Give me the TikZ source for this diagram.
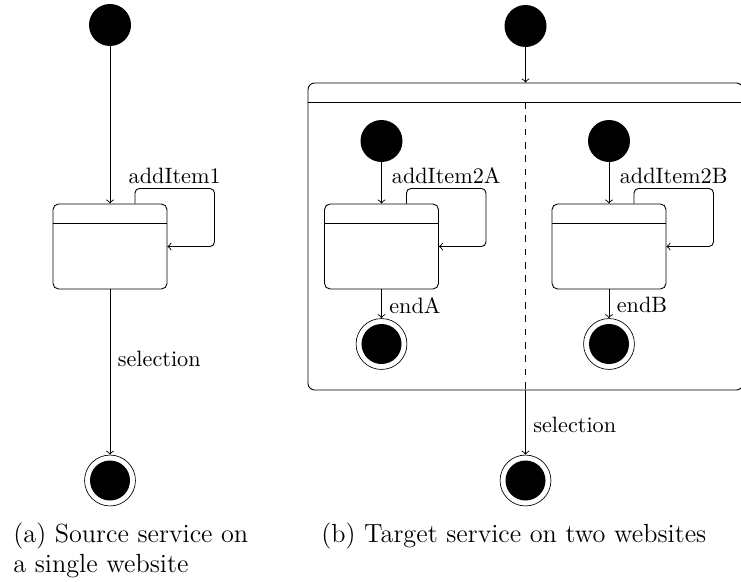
\documentclass[tikz,border=0pt]{standalone}
\usetikzlibrary{calc}
\begin{document}
\begin{tikzpicture}[x=0.45pt,y=-0.45pt,
  initial/.style={circle,fill=black,inner sep=0pt,minimum size=18.9pt},
  final/.style={circle,draw,line width=0.3pt,inner sep=0pt,minimum size=22.9pt,
    path picture={\fill[black] (path picture bounding box.center) circle (9pt);}},
  statebox/.style={draw,rounded corners=2.5pt,minimum width=51.3pt,
    minimum height=38.25pt,inner sep=0pt},
  region/.style={draw,rounded corners=3pt,minimum width=195.75pt,
    minimum height=138.15pt,inner sep=0pt},
  trans/.style={->},
  lbl/.style={font=\fontsize{10}{12}\selectfont},
  looplbl/.style={lbl,above,inner sep=2pt,pos=0.75},
  caption/.style={font=\fontsize{11.8}{13.5}\selectfont,inner sep=0pt,align=left}
]
\useasboundingbox (0,0) rectangle (741,581);
\clip (0,0) rectangle (741,581);

% ---------- (a) source service ----------
\node[initial] (i1) at (110,25) {};
\node[statebox] (s1) at (110,246.5) {};
\draw ([yshift=-9pt]s1.north west) -- ([yshift=-9pt]s1.north east);
\node[final] (f1) at (110,480.5) {};

\draw[trans] (i1) -- (s1);
\draw[trans,rounded corners=2pt] ($(s1.north)+(25,0)$)
  |- node[looplbl]{addItem1} ($(s1.east)+(47,-58)$) |- (s1.east);
\draw[trans] (s1) -- node[lbl,right,pos=0.42]{selection} (f1);

\node[caption,anchor=north west] (capa) at (13,522)
  {(a) Source service on\\a single website};

% ---------- (b) target service ----------
\node[initial] (i2) at (525.5,26) {};
\node[region] (big) at (525.5,236.5) {};
\draw ([yshift=-8.8pt]big.north west) -- ([yshift=-8.8pt]big.north east);
\draw[dashed] ([yshift=-8.8pt]big.north) -- (big.south);
\node[final] (f2) at (525.5,480.5) {};

% left region
\node[initial] (iA) at (381.5,141) {};
\node[statebox] (sA) at (381.5,246.5) {};
\draw ([yshift=-9pt]sA.north west) -- ([yshift=-9pt]sA.north east);
\node[final] (fA) at (381.5,344) {};

% right region
\node[initial] (iB) at (609,141) {};
\node[statebox] (sB) at (609,246.5) {};
\draw ([yshift=-9pt]sB.north west) -- ([yshift=-9pt]sB.north east);
\node[final] (fB) at (609,344) {};

\draw[trans] (i2) -- (big);
\draw[trans] (iA) -- (sA);
\draw[trans,rounded corners=2pt] ($(sA.north)+(25,0)$)
  |- node[looplbl]{addItem2A} ($(sA.east)+(47,-58)$) |- (sA.east);
\draw[trans] (sA) -- node[lbl,right,pos=0.55]{endA} (fA);

\draw[trans] (iB) -- (sB);
\draw[trans,rounded corners=2pt] ($(sB.north)+(25,0)$)
  |- node[looplbl]{addItem2B} ($(sB.east)+(47,-58)$) |- (sB.east);
\draw[trans] (sB) -- node[lbl,right,pos=0.55]{endB} (fB);

\draw[trans] (big) -- node[lbl,right,pos=0.54]{selection} (f2);

\node[caption,anchor=north west] (capb) at (321,522)
  {(b) Target service on two websites};
\end{tikzpicture}
\end{document}
